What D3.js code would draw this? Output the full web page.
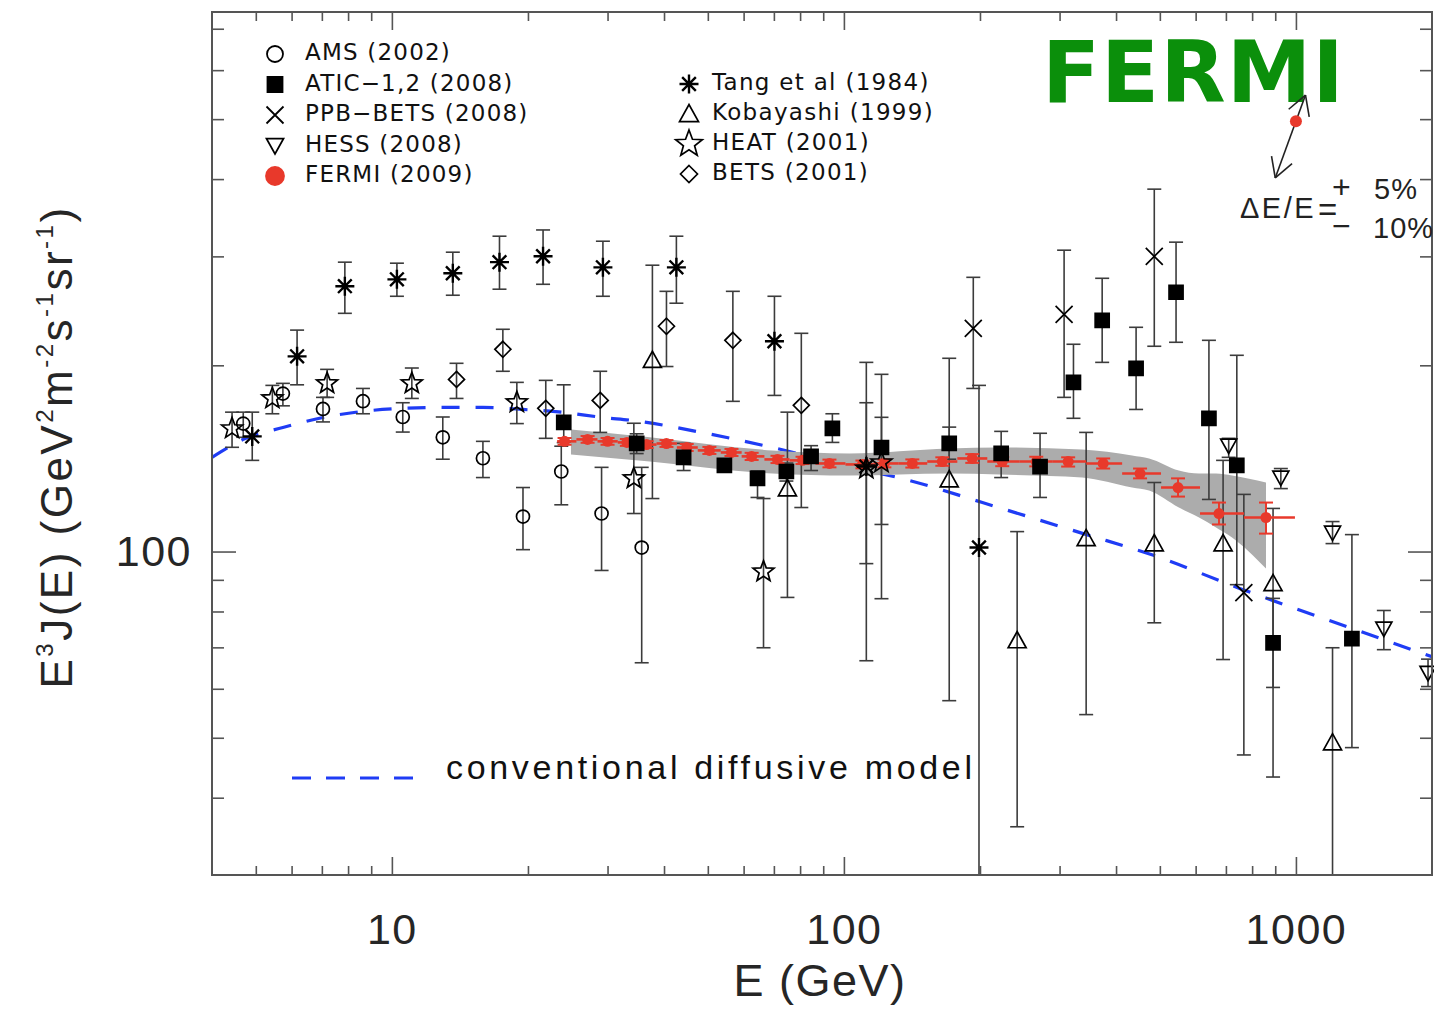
<!DOCTYPE html>
<html><head><meta charset="utf-8">
<script src="https://cdn.jsdelivr.net/npm/d3@7"></script>
<style>body{margin:0;background:#fff}svg{display:block}</style>
</head><body>
<svg id="c" width="1434" height="1009"></svg>
<script>
// ---------------- DATA ----------------
const amsE  = [4.69, 5.74, 7.04, 8.63, 10.57, 12.96, 15.9, 19.5, 23.7, 29.1, 35.7];
const amsV  = [161, 180, 170, 175, 165, 153, 141.5, 113.9, 134.7, 115.2, 101.5];
const amsLo = [153, 172, 162, 167, 156, 141, 131.7, 100.7, 119, 93.2, 66.1];
const amsHi = [168, 187, 177.5, 183.5, 174, 165, 150.7, 126.9, 148, 136.8, 136.8];

const aticE  = [24.0, 34.8, 44.2, 54.4, 64.4, 74.6, 84.6, 94.3, 121.1, 171, 222.8, 271.6, 322, 372.7, 443, 543, 642, 740, 890, 1330];
const aticV  = [161.7, 149.6, 142, 137.8, 131.3, 134.7, 142.5, 158.1, 147.3, 149.6, 144.1, 137.2, 187.7, 236.5, 197.8, 262.5, 164.1, 137.8, 71.2, 72.3];
const aticLo = [150, 144, 135.2, 134.5, 122.3, 130, 135.2, 150.1, 110.6, 141, 131.7, 122.3, 164.2, 202.2, 169.7, 217.9, 121.4, 88.4, 60.3, 48.2];
const aticHi = [186, 155, 149.6, 141, 135, 139, 148.3, 167, 164.8, 158.9, 156.4, 155.3, 216.3, 276.5, 230.4, 316.3, 219.5, 207.6, 84, 106.5];

const ppbE  = [193.3, 307, 486, 767];
const ppbV  = [229.5, 241.8, 300, 85.8];
const ppbLo = [183.5, 177.5, 214.7, 46.9];
const ppbHi = [277.5, 307, 385.3, 123.7];

const hessE  = [710, 926, 1205, 1565, 1960];
const hessV  = [148.4, 131.7, 107.3, 75.1, 63.7];
const hessLo = [142, 126.4, 103, 69.4, 60.5];
const hessHi = [152.4, 136.2, 111.8, 80.3, 67];

const tangE  = [4.91, 6.17, 7.87, 10.26, 13.64, 17.3, 21.6, 29.3, 42.6, 70.2, 112.1, 199];
const tangV  = [153.5, 206.8, 268.5, 275.4, 281.8, 293.6, 300.2, 288, 288, 218.7, 137.2, 101.5];
const tangLo = [140.4, 186, 242.7, 258.6, 259.6, 265.5, 270.4, 258.6, 252, 178.8, 66.6, 20];
const tangHi = [168, 228, 293.6, 292.5, 304.7, 323.4, 331, 317.4, 323.4, 258.6, 202.2, 185.6];

const kobE  = [37.7, 75, 171, 241.7, 343.5, 486, 690, 890, 1205];
const kobV  = [203.8, 126.4, 130.7, 71.8, 105, 103, 103, 88.8, 49.1];
const kobLo = [121.8, 84.3, 57.4, 35.9, 54.5, 76.7, 66.9, 43.2, 20];
const kobHi = [290.3, 168, 205.3, 107.7, 155.8, 129.3, 140.4, 117.4, 69.9];

const heatE  = [4.43, 5.44, 7.19, 11.07, 18.9, 34.3, 66.4, 112.1, 121.1];
const heatV  = [158.1, 176.8, 187, 187, 174.2, 131.3, 92.8, 136.2, 139.3];
const heatLo = [147.4, 167, 177.5, 176.8, 161, 115.2, 69.9, 95.6, 83.9];
const heatHi = [168, 185.6, 197, 198, 187.7, 161.2, 121.8, 174, 193.4];

const betsE  = [13.9, 17.6, 21.9, 28.9, 40.5, 56.8, 80.5];
const betsV  = [189.8, 212.3, 170.4, 175.5, 231.3, 219.5, 172.3];
const betsLo = [176.8, 195.6, 152.4, 155.8, 199.1, 174.9, 117.8];
const betsHi = [201.5, 228.7, 189.1, 195.6, 263.4, 263.4, 225.3];

const fermiE  = [24.1, 27.1, 30.0, 33.1, 36.6, 40.5, 44.9, 50.4, 56.4, 62.5, 71.3, 81.0, 92.9, 109.9, 122.9, 141.7, 165.1, 192.3, 224.0, 266.4, 313.4, 374.6, 452.0, 548.5, 675.7, 858.5];
const fermiV  = [150.7, 151.8, 150.7, 150.1, 148.9, 149.5, 147.3, 145.7, 144.6, 142.5, 140.9, 140.4, 138.8, 138.3, 138.8, 138.8, 139.8, 141.4, 139.8, 139.8, 139.8, 138.8, 133.7, 126.9, 115.2, 113.5];
const fermiLo = [148.8, 149.9, 148.8, 148.2, 147.0, 147.6, 145.4, 143.8, 142.7, 140.6, 139.0, 138.5, 136.8, 136.3, 136.8, 136.7, 137.6, 139.1, 137.4, 137.3, 137.2, 136.2, 131.3, 122.7, 110.6, 106.9];
const fermiHi = [152.6, 153.7, 152.6, 152.0, 150.8, 151.4, 149.2, 147.6, 146.5, 144.4, 142.8, 142.3, 140.8, 140.3, 140.8, 140.9, 142.0, 143.7, 142.2, 142.3, 142.0, 141.4, 136.2, 131.3, 120.0, 120.0];
const fermiEdges = [23.2, 25.6, 28.5, 31.6, 34.8, 38.5, 42.7, 47.5, 53.4, 59.4, 66.7, 75.8, 86.5, 100.8, 116.2, 131.9, 152.9, 178.2, 207.6, 244.3, 288.9, 343.6, 412.6, 503.0, 613.5, 767.4, 995];

const bandE  = [24.9, 37.2, 69.5, 102.9, 171, 220.6, 336.5, 434, 473.3, 551, 610.5, 665.6, 722.2, 858.5];
const bandHi = [157.5, 153, 145.7, 144.1, 146.8, 147.3, 146.2, 143.0, 141.4, 135.2, 133.7, 133.7, 132.7, 129.3];
const bandLo = [143.5, 139.8, 133.7, 132.7, 133.7, 133.2, 131.7, 126.9, 125.5, 117.8, 113.5, 109.4, 105.4, 93.9];

const modelE = [4, 4.69, 5.74, 7.04, 8.63, 10.57, 12.96, 15.9, 19.5, 23.9, 29.3, 34.1, 49.7, 69.5, 102.9, 139.6, 202.5, 338.5, 486, 753, 1330, 2000];
const modelV = [142, 151.8, 158.7, 164.7, 168.5, 170.4, 171, 171, 169.7, 167.9, 164.7, 162.9, 155.2, 147.3, 137.2, 130.3, 120, 106.9, 98.5, 87.1, 75.1, 67.6];

const xMajor = [10, 100, 1000];
const xMinor = [5,6,7,8,9,20,30,40,50,60,70,80,90,200,300,400,500,600,700,800,900];
const yMajor = [100];
const yMinor = [40,50,60,70,80,90,200,300,400,500,600,700];

const legendLeft  = ["AMS (2002)", "ATIC\u22121,2 (2008)", "PPB\u2212BETS (2008)", "HESS (2008)", "FERMI (2009)"];
const legendRight = ["Tang et al (1984)", "Kobayashi (1999)", "HEAT (2001)", "BETS (2001)"];
const modelLabel = "conventional diffusive model";

// energy-resolution annotation: point, +5% / -10%
const annE = 1000, annV = 496, annUp = 0.05, annDown = 0.10;

// ---------------- DRAWING ----------------
const svg = d3.select("#c");
const L = 212, R = 1432, T = 12, B = 875;
const x = d3.scaleLog().domain([4, 2000]).range([L, R]);
const y = d3.scaleLog().domain([30, 745]).range([B, T]);

svg.append("defs").append("clipPath").attr("id","plot")
  .append("rect").attr("x",L).attr("y",T).attr("width",R-L).attr("height",B-T);

const FONT = "'Liberation Sans', Arial, sans-serif";
const LFONT = "'DejaVu Sans', sans-serif";
const AX = "#555";
const TXT = "#262626";

// axes (ticks inward on all four sides)
function tickAxis(axisFn, scale, vals, size, tx, ty) {
  const g = svg.append("g").attr("transform",`translate(${tx},${ty})`)
    .call(axisFn(scale).tickValues(vals).tickSize(size).tickFormat(""));
  g.select(".domain").remove();
  g.selectAll(".tick line").attr("stroke",AX).attr("stroke-width",1.6);
  return g;
}
tickAxis(d3.axisBottom, x, xMinor, -9, 0, B);
tickAxis(d3.axisBottom, x, xMajor, -18, 0, B);
tickAxis(d3.axisTop, x, xMinor, -9, 0, T);
tickAxis(d3.axisTop, x, xMajor, -18, 0, T);
tickAxis(d3.axisLeft, y, yMinor, -12, L, 0);
tickAxis(d3.axisLeft, y, yMajor, -24, L, 0);
tickAxis(d3.axisRight, y, yMinor, -12, R, 0);
tickAxis(d3.axisRight, y, yMajor, -24, R, 0);

// tick labels
const xl = svg.append("g").attr("transform",`translate(0,${B})`)
  .call(d3.axisBottom(x).tickValues(xMajor).tickSize(0).tickPadding(38).tickFormat(d3.format("d")));
xl.select(".domain").remove();
xl.selectAll("text").attr("font-family",FONT).attr("font-size",43).attr("fill",TXT).attr("letter-spacing",1.5);
const yl = svg.append("g").attr("transform",`translate(${L},0)`)
  .call(d3.axisLeft(y).tickValues(yMajor).tickSize(0).tickPadding(20).tickFormat(d3.format("d")));
yl.select(".domain").remove();
yl.selectAll("text").attr("font-family",FONT).attr("font-size",43).attr("fill",TXT).attr("letter-spacing",1.5);

// axis titles
svg.append("text").attr("x",(L+R)/2 - 2).attr("y",996).attr("text-anchor","middle")
  .attr("font-family",FONT).attr("font-size",45).attr("fill",TXT).attr("letter-spacing",1.5)
  .text("E (GeV)");
const yt = svg.append("text").attr("transform","translate(72,447) rotate(-90)")
  .attr("text-anchor","middle").attr("font-family",FONT).attr("font-size",44).attr("fill",TXT)
  .attr("letter-spacing",2.5);
[["E",0],["3",1],["J(E) (GeV",0],["2",1],["m",0],["-2",1],["s",0],["-1",1],["sr",0],["-1",1],[")",0]]
  .forEach(([t,sup])=>{
    const ts = yt.append("tspan").text(t);
    if (sup) ts.attr("font-size",24).attr("dy",-19);
    else ts.attr("dy", 19);
  });
yt.select("tspan").attr("dy",0);

// model line
const plot = svg.append("g").attr("clip-path","url(#plot)");
const modelPts = modelE.map((e,i)=>[e, modelV[i]]);
plot.append("path").datum(modelPts)
  .attr("d", d3.line().x(d=>x(d[0])).y(d=>y(d[1])).curve(d3.curveMonotoneX))
  .attr("fill","none").attr("stroke","#1f3cf5").attr("stroke-width",3.2).attr("stroke-dasharray","18,16");

// Fermi systematic band
const bandPts = bandE.map((e,i)=>[e, bandLo[i], bandHi[i]]);
plot.append("path").datum(bandPts)
  .attr("d", d3.area().x(d=>x(d[0])).y0(d=>y(d[1])).y1(d=>y(d[2])).curve(d3.curveMonotoneX))
  .attr("fill","#acacac");

// marker shapes
function shapePath(shape, s) {
  switch (shape) {
    case "circle": return `M${s},0A${s},${s} 0 1,1 ${-s},0A${s},${s} 0 1,1 ${s},0Z`;
    case "square": return `M${-s},${-s}H${s}V${s}H${-s}Z`;
    case "cross": return `M${-s},${-s}L${s},${s}M${s},${-s}L${-s},${s}`;
    case "tridown": return `M${-s},${-s*0.8}L${s},${-s*0.8}L0,${s}Z`;
    case "triup": return `M${-s},${s*0.8}L${s},${s*0.8}L0,${-s}Z`;
    case "asterisk": { const d = s*0.72; return `M0,${-s}V${s}M${-s},0H${s}M${-d},${-d}L${d},${d}M${d},${-d}L${-d},${d}`; }
    case "star": {
      let p = "";
      for (let k=0;k<10;k++){ const r = k%2? s*0.42 : s; const a = -Math.PI/2 + k*Math.PI/5;
        p += (k?"L":"M") + (r*Math.cos(a)).toFixed(2) + "," + (r*Math.sin(a)).toFixed(2); }
      return p + "Z";
    }
    case "diamond": return `M0,${-s}L${s},0L0,${s}L${-s},0Z`;
  }
}
const filled = {square:true};
const series = [
  {E:betsE, V:betsV, lo:betsLo, hi:betsHi, shape:"diamond", s:8},
  {E:amsE, V:amsV, lo:amsLo, hi:amsHi, shape:"circle", s:6.5},
  {E:tangE, V:tangV, lo:tangLo, hi:tangHi, shape:"asterisk", s:9.5},
  {E:kobE, V:kobV, lo:kobLo, hi:kobHi, shape:"triup", s:9},
  {E:heatE, V:heatV, lo:heatLo, hi:heatHi, shape:"star", s:11},
  {E:ppbE, V:ppbV, lo:ppbLo, hi:ppbHi, shape:"cross", s:8.5},
  {E:hessE, V:hessV, lo:hessLo, hi:hessHi, shape:"tridown", s:8},
  {E:aticE, V:aticV, lo:aticLo, hi:aticHi, shape:"square", s:7},
];
const EB = "#3c3c3c", CAP = 7;
series.forEach(sr=>{
  const g = plot.append("g");
  sr.E.forEach((e,i)=>{
    const xx = x(e), y1 = y(sr.lo[i]), y2 = y(sr.hi[i]);
    g.append("line").attr("x1",xx).attr("x2",xx).attr("y1",y1).attr("y2",y2)
      .attr("stroke",EB).attr("stroke-width",1.6);
    [y1,y2].forEach(yy=> g.append("line").attr("x1",xx-CAP).attr("x2",xx+CAP).attr("y1",yy).attr("y2",yy)
      .attr("stroke",EB).attr("stroke-width",1.6));
  });
});
series.forEach(sr=>{
  const g = svg.append("g");
  sr.E.forEach((e,i)=>{
    g.append("path").attr("d",shapePath(sr.shape,sr.s))
      .attr("transform",`translate(${x(e)},${y(sr.V[i])})`)
      .attr("fill", filled[sr.shape] ? "#000" : "none")
      .attr("stroke","#000").attr("stroke-width", sr.shape==="asterisk"?2.4:1.7);
  });
});

// Fermi points
const RED = "#e8392b";
const fg = plot.append("g");
fermiE.forEach((e,i)=>{
  const xx = x(e), yy = y(fermiV[i]);
  fg.append("line").attr("x1",x(fermiEdges[i])).attr("x2",x(fermiEdges[i+1])).attr("y1",yy).attr("y2",yy)
    .attr("stroke",RED).attr("stroke-width",2.6);
  const ya = y(fermiLo[i]), yb = y(fermiHi[i]);
  fg.append("line").attr("x1",xx).attr("x2",xx).attr("y1",ya).attr("y2",yb).attr("stroke",RED).attr("stroke-width",2);
  [ya,yb].forEach(v=> fg.append("line").attr("x1",xx-7).attr("x2",xx+7).attr("y1",v).attr("y2",v)
    .attr("stroke",RED).attr("stroke-width",2));
  fg.append("circle").attr("cx",xx).attr("cy",yy).attr("r",5.5).attr("fill",RED);
});

// frame
svg.append("rect").attr("x",L).attr("y",T).attr("width",R-L).attr("height",B-T)
  .attr("fill","none").attr("stroke",AX).attr("stroke-width",2);

// legends
const leftShapes = [["circle",8,"none","#000"],["square",7.5,"#000","#000"],["cross",8.5,"none","#000"],["tridown",8.5,"none","#000"],["circle",9,RED,RED]];
legendLeft.forEach((t,i)=>{
  const by = 60 + i*30.5;
  const [sh, s, f, st] = leftShapes[i];
  svg.append("path").attr("d",shapePath(sh,s)).attr("transform",`translate(275,${by-6})`)
    .attr("fill",f).attr("stroke",st).attr("stroke-width",1.8);
  svg.append("text").attr("x",305).attr("y",by).attr("font-family",LFONT).attr("font-size",23)
    .attr("letter-spacing",1.2).attr("fill","#111").text(t);
});
const rightShapes = [["asterisk",9.5],["triup",9.5],["star",14],["diamond",8.5]];
legendRight.forEach((t,i)=>{
  const by = 90 + i*30;
  const [sh, s] = rightShapes[i];
  svg.append("path").attr("d",shapePath(sh,s)).attr("transform",`translate(689,${by-6})`)
    .attr("fill","none").attr("stroke","#000").attr("stroke-width",sh==="asterisk"?2.4:1.7);
  svg.append("text").attr("x",712).attr("y",by).attr("font-family",LFONT).attr("font-size",23)
    .attr("letter-spacing",1.3).attr("fill","#111").text(t);
});

// model legend
svg.append("line").attr("x1",292).attr("x2",414).attr("y1",778).attr("y2",778)
  .attr("stroke","#1f3cf5").attr("stroke-width",3.2).attr("stroke-dasharray","19,15");
svg.append("text").attr("x",446).attr("y",779).attr("font-family",FONT).attr("font-size",34)
  .attr("textLength",526).attr("lengthAdjust","spacing").attr("fill","#111").text(modelLabel);

// FERMI title
svg.append("text").attr("x",1042).attr("y",102).attr("font-family","'DejaVu Sans', sans-serif")
  .attr("font-weight","bold").attr("font-size",85).attr("fill","#0b8f0b")
  .attr("textLength",302).attr("lengthAdjust","spacing").text("FERMI");

// energy resolution annotation
const ax0 = x(annE), ay0 = y(annV);
function arrow(e, v) {
  const tx = x(e), ty = y(v);
  svg.append("line").attr("x1",ax0).attr("y1",ay0).attr("x2",tx).attr("y2",ty).attr("stroke","#222").attr("stroke-width",1.6);
  const ang = Math.atan2(ay0-ty, ax0-tx);
  [-0.52, 0.52].forEach(da=>{
    svg.append("line").attr("x1",tx).attr("y1",ty)
      .attr("x2",tx+22*Math.cos(ang+da)).attr("y2",ty+22*Math.sin(ang+da))
      .attr("stroke","#222").attr("stroke-width",1.6);
  });
}
arrow(annE*(1+annUp), annV*(1+annUp)**2);
arrow(annE*(1-annDown), annV*(1-annDown)**2);
svg.append("circle").attr("cx",ax0).attr("cy",ay0).attr("r",6).attr("fill",RED);
// "ΔE/E=" with stacked +/−
const atxt = (tx, ty, t, fs, ls) => svg.append("text").attr("x",tx).attr("y",ty)
  .attr("font-family",FONT).attr("font-size",fs).attr("fill","#222").attr("letter-spacing",ls||0).text(t);
atxt(1240, 218, "\u0394E/E", 29, 2.5);
atxt(1318, 221, "=", 33);
atxt(1332, 198, "+", 32);
atxt(1332, 237, "\u2212", 32);
atxt(1374, 199, "5%", 29, 1);
atxt(1373, 238, "10%", 29, 1);
</script>
</body></html>
